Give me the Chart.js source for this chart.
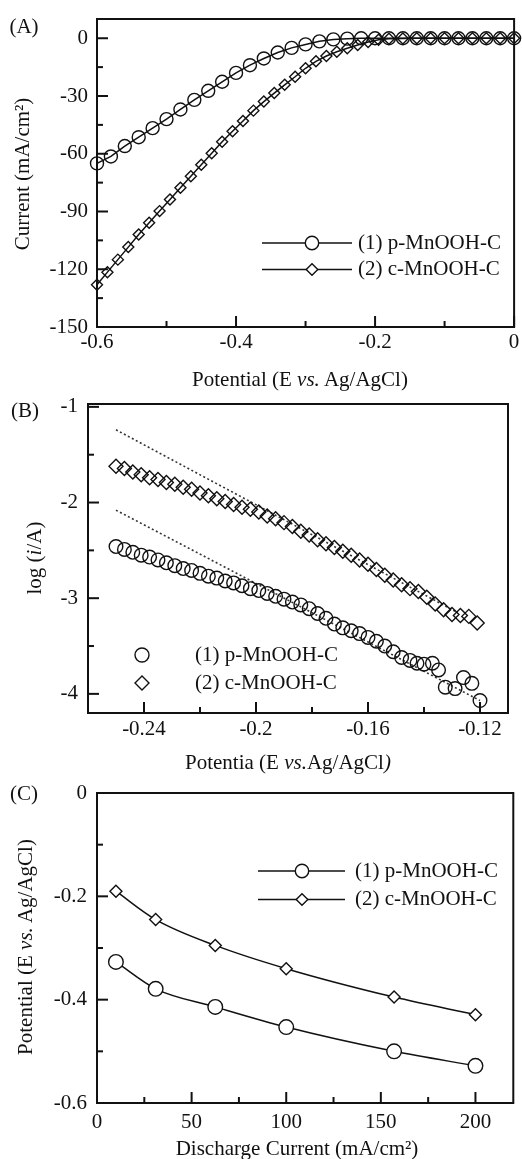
<!DOCTYPE html>
<html>
<head>
<meta charset="utf-8">
<title>MnOOH-C cathodes</title>
<script src="https://cdn.jsdelivr.net/npm/chart.js@4.4.0/dist/chart.umd.min.js"></script>
<style>
  body { margin: 0; background: #fff; }
  #page { position: relative; width: 522px; height: 1159px; overflow: hidden;
          font-family: 'Liberation Serif', 'Times New Roman', serif; color: #111; }
  canvas { position: absolute; left: 0; }
  .txt { position: absolute; font-size: 21px; line-height: 1; white-space: nowrap;
         transform: translate(-50%, -50%); }
  .rot { transform: translate(-50%, -50%) rotate(-90deg); }
</style>
</head>
<body>
<div id="page">
  <canvas id="graph_a" width="522" height="385" style="top:0"></canvas>
  <canvas id="graph_b" width="522" height="385" style="top:385px"></canvas>
  <canvas id="graph_c" width="522" height="389" style="top:770px"></canvas>

  <div class="txt" style="left:24px;top:26px">(A)</div>
  <div class="txt rot" style="left:22px;top:174px">Current (mA/cm²)</div>
  <div class="txt" style="left:300px;top:379px">Potential (E <i>vs.</i> Ag/AgCl)</div>

  <div class="txt" style="left:25px;top:410px">(B)</div>
  <div class="txt rot" style="left:34px;top:558px">log (<i>i</i>/A)</div>
  <div class="txt" style="left:288px;top:762px">Potentia (E <i>vs.</i>Ag/AgCl<i>)</i></div>

  <div class="txt" style="left:24px;top:793px">(C)</div>
  <div class="txt rot" style="left:25px;top:947px">Potential (E <i>vs.</i> Ag/AgCl)</div>
  <div class="txt" style="left:297px;top:1148px">Discharge Current (mA/cm²)</div>
</div>

<script>
/*------------------------------*/
/*            DATA              */
/*------------------------------*/
var labels = ['(1) p-MnOOH-C', '(2) c-MnOOH-C']

// (A) polarization curves
var potential_a_p = [-0.6, -0.58, -0.56, -0.54, -0.52, -0.5, -0.48, -0.46, -0.44, -0.42, -0.4,
  -0.38, -0.36, -0.34, -0.32, -0.3, -0.28, -0.26, -0.24, -0.22, -0.2, -0.18, -0.16, -0.14,
  -0.12, -0.1, -0.08, -0.06, -0.04, -0.02, 0]
var current_a_p = [-65, -61.4, -56, -51.4, -46.7, -42, -37, -32, -27.3, -22.6, -18, -14, -10.5,
  -7.4, -5, -3.2, -1.6, -0.6, -0.2, 0, 0, 0, 0, 0, 0, 0, 0, 0, 0, 0, 0]
var potential_a_c = [-0.6, -0.585, -0.57, -0.555, -0.54, -0.525, -0.51, -0.495, -0.48, -0.465,
  -0.45, -0.435, -0.42, -0.405, -0.39, -0.375, -0.36, -0.345, -0.33, -0.315, -0.3, -0.285,
  -0.27, -0.255, -0.24, -0.225, -0.21, -0.195, -0.18, -0.16, -0.14, -0.12, -0.1, -0.08,
  -0.06, -0.04, -0.02, 0]
var current_a_c = [-128, -121.5, -115, -108.5, -102, -95.8, -89.8, -83.8, -77.7, -71.7, -65.7,
  -59.7, -53.8, -48.3, -43, -37.6, -32.9, -28.5, -24.2, -20, -15.6, -12, -9.2, -7, -5.2, -3.5,
  -1.9, -0.8, -0.3, -0.1, 0, 0, 0, 0, 0, 0, 0, 0]

// (B) Tafel plots
var potential_b_p = [-0.25, -0.247, -0.244, -0.241, -0.238, -0.235, -0.232, -0.229, -0.226,
  -0.223, -0.22, -0.217, -0.214, -0.211, -0.208, -0.205, -0.202, -0.199, -0.196, -0.193, -0.19,
  -0.187, -0.184, -0.181, -0.178, -0.175, -0.172, -0.169, -0.166, -0.163, -0.16, -0.157, -0.154,
  -0.151, -0.148, -0.145, -0.1425, -0.14, -0.137, -0.1348, -0.1324, -0.1289, -0.1259, -0.1229, -0.12]
var log_b_p = [-2.46, -2.49, -2.52, -2.55, -2.57, -2.6, -2.63, -2.66, -2.69, -2.71, -2.74, -2.77,
  -2.79, -2.82, -2.84, -2.87, -2.9, -2.92, -2.95, -2.98, -3.01, -3.04, -3.07, -3.11, -3.16, -3.21,
  -3.27, -3.31, -3.34, -3.37, -3.41, -3.45, -3.5, -3.56, -3.62, -3.65, -3.68, -3.69, -3.68, -3.75,
  -3.93, -3.945, -3.83, -3.89, -4.07]
var potential_b_c = [-0.25, -0.247, -0.244, -0.241, -0.238, -0.235, -0.232, -0.229, -0.226,
  -0.223, -0.22, -0.217, -0.214, -0.211, -0.208, -0.205, -0.202, -0.199, -0.196, -0.193, -0.19,
  -0.187, -0.184, -0.181, -0.178, -0.175, -0.172, -0.169, -0.166, -0.163, -0.16, -0.157, -0.154,
  -0.151, -0.148, -0.145, -0.142, -0.139, -0.136, -0.133, -0.13, -0.127, -0.124, -0.121]
var log_b_c = [-1.62, -1.645, -1.68, -1.71, -1.74, -1.76, -1.79, -1.81, -1.84, -1.86, -1.9, -1.93,
  -1.96, -1.99, -2.02, -2.05, -2.07, -2.1, -2.14, -2.17, -2.21, -2.25, -2.3, -2.34, -2.39, -2.43,
  -2.47, -2.51, -2.55, -2.6, -2.645, -2.7, -2.76, -2.81, -2.86, -2.9, -2.93, -2.99, -3.06, -3.12,
  -3.17, -3.18, -3.19, -3.26]
// dotted linear fits
var fit_x_p = [-0.25, -0.12]
var fit_y_p = [-2.08, -4.07]
var fit_x_c = [-0.25, -0.128]
var fit_y_c = [-1.24, -3.15]

// (C) discharge potential
var current_c = [10, 31, 62.5, 100, 157, 200]
var potential_c_p = [-0.327, -0.379, -0.414, -0.453, -0.5, -0.528]
var potential_c_c = [-0.19, -0.245, -0.295, -0.34, -0.395, -0.429]


/*------------------------------*/
/*           HELPERS            */
/*------------------------------*/
Chart.defaults.font.family = "'Liberation Serif', 'Times New Roman', serif"
Chart.defaults.color = '#111'
var INK = '#111'
var tickFont = { size: 21 }

function pairs(xs, ys) {
  return xs.map(function (x, i) { return { x: x, y: ys[i] } })
}
function onStep(v, step) {
  var q = v / step
  return Math.abs(q - Math.round(q)) < 1e-6
}
function fmt(v) {
  return String(Number(v.toFixed(2)))
}
function axis(min, max, minor, major, pad, fit) {
  return {
    type: 'linear', min: min, max: max,
    grid: { display: false, drawTicks: false },
    border: { display: false },
    ticks: {
      stepSize: minor, includeBounds: false, autoSkip: false, maxRotation: 0, minRotation: 0,
      padding: pad, color: INK, font: tickFont,
      callback: function (v) { return onStep(v, major) ? fmt(v) : '' }
    },
    afterFit: fit
  }
}
function xFit(h) {
  return function (s) { s.height = h; s.paddingLeft = 0; s.paddingRight = 0 }
}
function yFit(w) {
  return function (s) { s.width = w; s.paddingTop = 0; s.paddingBottom = 0 }
}

// box frame, inward ticks and the in-plot legend
var framePlugin = {
  id: 'frame',
  afterDraw: function (chart, args, opts) {
    var ctx = chart.ctx, a = chart.chartArea
    ctx.save()
    ctx.strokeStyle = INK
    ctx.lineWidth = 2
    ctx.strokeRect(a.left, a.top, a.right - a.left, a.bottom - a.top)
    ;['x', 'y'].forEach(function (id) {
      var sc = chart.scales[id], st = opts[id]
      sc.ticks.forEach(function (t) {
        if (!onStep(t.value, st.minor)) return
        var len = onStep(t.value, st.major) ? 11 : 6
        var p = sc.getPixelForValue(t.value)
        ctx.beginPath()
        if (id === 'x') { ctx.moveTo(p, a.bottom); ctx.lineTo(p, a.bottom - len) }
        else { ctx.moveTo(a.left, p); ctx.lineTo(a.left + len, p) }
        ctx.stroke()
      })
    })

    var lg = opts.legend
    chart.data.datasets.filter(function (d) { return d.label }).forEach(function (d, i) {
      var y = lg.y + i * lg.dy
      ctx.strokeStyle = INK
      ctx.lineWidth = 1.5
      if (lg.line) {
        ctx.beginPath(); ctx.moveTo(lg.line[0], y); ctx.lineTo(lg.line[1], y); ctx.stroke()
      }
      ctx.fillStyle = lg.fill
      ctx.lineWidth = d.pointBorderWidth
      Chart.helpers.drawPoint(ctx, {
        pointStyle: d.pointStyle, radius: lg.r[i], rotation: 0, borderWidth: d.pointBorderWidth
      }, lg.mx, y)
      ctx.fillStyle = INK
      ctx.font = "21px 'Liberation Serif'"
      ctx.textAlign = 'left'
      ctx.textBaseline = 'middle'
      ctx.fillText(d.label, lg.tx, y)
    })
    ctx.restore()
  }
}

function series(label, xs, ys, style, r, fill, line) {
  return {
    label: label,
    data: pairs(xs, ys),
    showLine: line,
    borderColor: INK,
    borderWidth: 1.5,
    pointStyle: style,
    pointRadius: r,
    pointHoverRadius: r,
    pointBorderWidth: 1.4,
    pointBorderColor: INK,
    pointBackgroundColor: fill,
    clip: false
  }
}


/*------------------------------*/
/*     GRAPHIQUE A  (current)   */
/*------------------------------*/
var ctx_a = document.getElementById('graph_a').getContext('2d')
var config_a = {
  type: 'scatter',
  data: {
    datasets: [
      series(labels[0], potential_a_p, current_a_p, 'circle', 6.5, 'rgba(0,0,0,0)', true),
      series(labels[1], potential_a_c, current_a_c, 'rectRot', 5.5, 'rgba(0,0,0,0)', true)
    ]
  },
  options: {
    responsive: false,
    animation: false,
    layout: { padding: { left: 0, top: 19, right: 2, bottom: 0 } },
    scales: {
      x: axis(-0.6, 0, 0.1, 0.2, 3, xFit(58)),
      y: axis(-150, 10, 15, 30, 9, yFit(97))
    },
    plugins: {
      legend: { display: false },
      tooltip: { enabled: false },
      frame: {
        x: { minor: 0.1, major: 0.2 }, y: { minor: 15, major: 30 },
        legend: { y: 243, dy: 26.5, line: [262, 352], mx: 312, tx: 358, r: [6.7, 5.8], fill: '#fff' }
      }
    }
  },
  plugins: [framePlugin]
}
var graph_a = new Chart(ctx_a, config_a)


/*------------------------------*/
/*     GRAPHIQUE B  (Tafel)     */
/*------------------------------*/
var ctx_b = document.getElementById('graph_b').getContext('2d')
var fit_style = {
  showLine: true, borderColor: '#333', borderWidth: 1.6, borderDash: [2, 2.5],
  pointRadius: 0, pointHoverRadius: 0, clip: false
}
var config_b = {
  type: 'scatter',
  data: {
    datasets: [
      series(labels[0], potential_b_p, log_b_p, 'circle', 6.8, 'rgba(0,0,0,0)', false),
      series(labels[1], potential_b_c, log_b_c, 'rectRot', 7, 'rgba(0,0,0,0)', false),
      Object.assign({ data: pairs(fit_x_p, fit_y_p) }, fit_style),
      Object.assign({ data: pairs(fit_x_c, fit_y_c) }, fit_style)
    ]
  },
  options: {
    responsive: false,
    animation: false,
    layout: { padding: { left: 0, top: 19, right: 14, bottom: 0 } },
    scales: {
      x: axis(-0.26, -0.11, 0.02, 0.04, 4, xFit(57)),
      y: axis(-4.2, -0.97, 0.5, 1, 10, yFit(88))
    },
    plugins: {
      legend: { display: false },
      tooltip: { enabled: false },
      frame: {
        x: { minor: 0.02, major: 0.04 }, y: { minor: 0.5, major: 1 },
        legend: { y: 270, dy: 28, line: null, mx: 142, tx: 195, r: [7, 7], fill: 'rgba(0,0,0,0)' }
      }
    }
  },
  plugins: [framePlugin]
}
var graph_b = new Chart(ctx_b, config_b)


/*------------------------------*/
/*     GRAPHIQUE C  (discharge) */
/*------------------------------*/
var ctx_c = document.getElementById('graph_c').getContext('2d')
var set_c_p = series(labels[0], current_c, potential_c_p, 'circle', 7.3, '#fff', true)
var set_c_c = series(labels[1], current_c, potential_c_c, 'rectRot', 6, '#fff', true)
set_c_p.cubicInterpolationMode = 'monotone'
set_c_c.cubicInterpolationMode = 'monotone'
var config_c = {
  type: 'scatter',
  data: { datasets: [set_c_p, set_c_c] },
  options: {
    responsive: false,
    animation: false,
    layout: { padding: { left: 0, top: 23, right: 2, bottom: 0 } },
    scales: {
      x: axis(0, 220, 25, 50, 7, xFit(56)),
      y: axis(-0.6, 0, 0.1, 0.2, 10, yFit(97))
    },
    plugins: {
      legend: { display: false },
      tooltip: { enabled: false },
      frame: {
        x: { minor: 25, major: 50 }, y: { minor: 0.1, major: 0.2 },
        legend: { y: 101, dy: 28.5, line: [258, 345], mx: 302, tx: 355, r: [6.7, 5.8], fill: '#fff' }
      }
    }
  },
  plugins: [framePlugin]
}
var graph_c = new Chart(ctx_c, config_c)
/*------------------------------*/
</script>
</body>
</html>
